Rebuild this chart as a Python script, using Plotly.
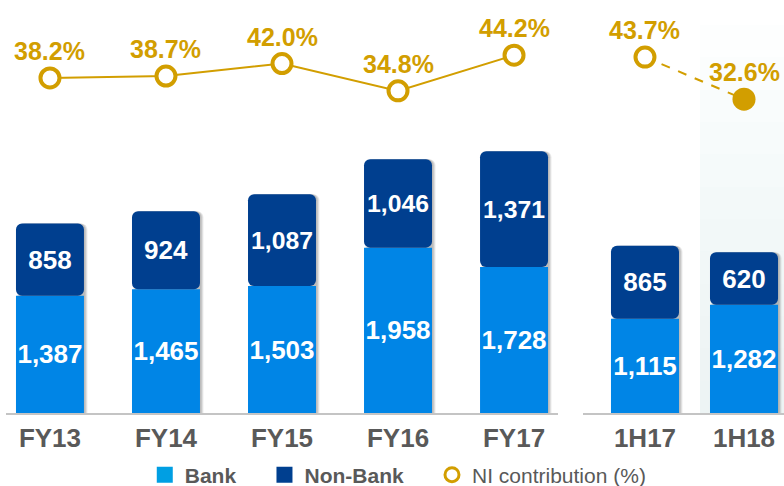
import plotly.graph_objects as go

# ---- data ----
fy_periods = ["FY13", "FY14", "FY15", "FY16", "FY17"]
fy_bank = [1387, 1465, 1503, 1958, 1728]
fy_nonbank = [858, 924, 1087, 1046, 1371]
fy_ni_pct = [38.2, 38.7, 42.0, 34.8, 44.2]

h_periods = ["1H17", "1H18"]
h_bank = [1115, 1282]
h_nonbank = [865, 620]
h_ni_pct = [43.7, 32.6]

series_names = ["Bank", "Non-Bank", "NI contribution (%)"]

# ---- style ----
BANK = "#0085E6"
BANK_LEG = "#009FE3"
NONBANK = "#003F8F"
GOLD = "#D29E00"
GREY = "#595959"
FONT = "Arial, Liberation Sans, sans-serif"
W, H = 784, 486
PLOT_BOTTOM = 413

fig = go.Figure()

def fmt(v):
    return f"{v:,}"

def add_bars(x, bank, nonbank, xaxis, width, px_per_unit):
    totals = [b + n for b, n in zip(bank, nonbank)]
    # soft drop shadow behind each stacked bar
    for k, alpha in enumerate([0.10, 0.10, 0.08]):
        fig.add_trace(go.Bar(
            x=x, y=totals, width=width, offset=-width / 2 + (k + 1.5) / px_per_unit,
            marker=dict(color=f"rgba(0,0,0,{alpha})", cornerradius=6, line_width=0),
            xaxis=xaxis, yaxis="y", showlegend=False, hoverinfo="skip"))
    fig.add_trace(go.Bar(
        x=x, y=bank, name=series_names[0], width=width,
        marker=dict(color=BANK, cornerradius=0, line_width=0),
        text=[fmt(v) for v in bank], textposition="inside", insidetextanchor="middle",
        textangle=0, constraintext="none",
        textfont=dict(family=FONT, size=26, color="white", weight="bold"),
        xaxis=xaxis, yaxis="y", showlegend=False))
    fig.add_trace(go.Bar(
        x=x, y=nonbank, base=bank, name=series_names[1], width=width,
        marker=dict(color=NONBANK, cornerradius=6, line_width=0),
        text=[fmt(v) for v in nonbank], textposition="inside", insidetextanchor="middle",
        textangle=0, constraintext="none",
        textfont=dict(family=FONT, size=26, color="white", weight="bold"),
        xaxis=xaxis, yaxis="y", showlegend=False))

add_bars(fy_periods, fy_bank, fy_nonbank, "x", 0.586, 116)
add_bars(h_periods, h_bank, h_nonbank, "x2", 0.687, 99)

# NI contribution lines
fig.add_trace(go.Scatter(
    x=fy_periods, y=fy_ni_pct, mode="lines+markers", xaxis="x", yaxis="y2",
    line=dict(color=GOLD, width=2),
    marker=dict(symbol="circle", size=19, color="white", opacity=1, line=dict(color=GOLD, width=4)),
    showlegend=False, cliponaxis=False))
fig.add_trace(go.Scatter(
    x=h_periods, y=h_ni_pct, mode="lines", xaxis="x2", yaxis="y2",
    line=dict(color=GOLD, width=2, dash="dash"), showlegend=False, cliponaxis=False))
fig.add_trace(go.Scatter(
    x=h_periods, y=h_ni_pct, mode="markers", xaxis="x2", yaxis="y2",
    marker=dict(symbol="circle", size=[19, 23], color=["white", GOLD], opacity=1,
                line=dict(color=GOLD, width=[4, 0])),
    showlegend=False, cliponaxis=False))

# percentage labels
for xs, ys, xr in [(fy_periods, fy_ni_pct, "x"), (h_periods, h_ni_pct, "x2")]:
    for xv, yv in zip(xs, ys):
        fig.add_annotation(x=xv, y=yv, xref=xr, yref="y2", text=f"{yv:.1f}%",
                           showarrow=False, yanchor="bottom", yshift=11,
                           font=dict(family=FONT, size=25, color=GOLD, weight="bold"))

# legend entries
fig.add_trace(go.Scatter(x=[None], y=[None], mode="markers", name="<b>" + series_names[0] + "</b>" + "\u00a0" * 4,
                         marker=dict(symbol="square", size=16, color=BANK_LEG)))
fig.add_trace(go.Scatter(x=[None], y=[None], mode="markers", name="<b>" + series_names[1] + "</b>" + "\u00a0" * 4,
                         marker=dict(symbol="square", size=16, color=NONBANK)))
fig.add_trace(go.Scatter(x=[None], y=[None], mode="markers", name=series_names[2],
                         marker=dict(symbol="circle", size=14, color="white", line=dict(color=GOLD, width=3))))

# light shaded panel behind 1H18
n = 12
for i in range(n):
    fig.add_shape(type="rect", xref="paper", yref="paper",
                  x0=700 / W, x1=1.0, y0=0, y1=(PLOT_BOTTOM - 25) / PLOT_BOTTOM * (n - i) / n,
                  fillcolor="#E4EFF2", opacity=0.09, line_width=0, layer="below")

axis_common = dict(type="category", showgrid=False, zeroline=False, showline=True,
                   linecolor="#C4C4C4", linewidth=2, ticks="outside", ticklen=1,
                   tickcolor="rgba(0,0,0,0)",
                   tickfont=dict(family=FONT, size=26, color=GREY, weight="bold"))

fig.update_layout(
    width=W, height=H,
    margin=dict(l=0, r=0, t=0, b=H - PLOT_BOTTOM, autoexpand=False),
    paper_bgcolor="white", plot_bgcolor="rgba(0,0,0,0)",
    barmode="overlay",
    xaxis=dict(domain=[6 / W, 558 / W], range=[-0.379, 4.379], anchor="y", automargin=False, **axis_common),
    xaxis2=dict(domain=[583 / W, 1.0], range=[-0.626, 1.404], anchor="y", automargin=False, **axis_common),
    yaxis=dict(range=[0, 4890], visible=False, showgrid=False, zeroline=False),
    yaxis2=dict(range=[-50.2, 58.77], overlaying="y", visible=False, showgrid=False, zeroline=False),
    legend=dict(orientation="h", x=0.508, xanchor="center", y=-(475 - PLOT_BOTTOM) / PLOT_BOTTOM,
                yanchor="middle", traceorder="normal",
                font=dict(family=FONT, size=21, color=GREY),
                bgcolor="rgba(0,0,0,0)"),
    showlegend=True,
)

fig.write_html("out.html", config={"displayModeBar": False},
               post_script="document.body.style.margin='0';")
